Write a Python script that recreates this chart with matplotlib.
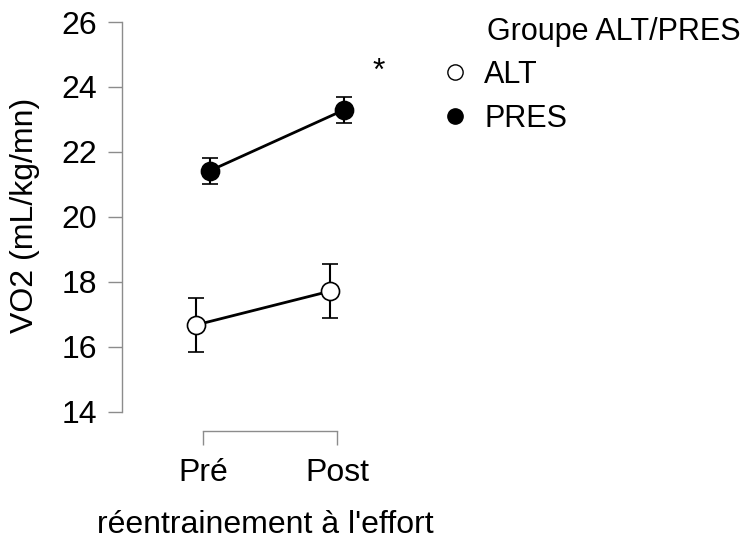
import matplotlib
matplotlib.use("Agg")
import matplotlib.pyplot as plt
from matplotlib.lines import Line2D

plt.rcParams["font.family"] = ["Liberation Sans", "DejaVu Sans"]

phases = ["Pré", "Post"]
groups = ["ALT", "PRES"]
alt_mean = [16.68, 17.72]
alt_err = [0.82, 0.83]
pres_mean = [21.42, 23.29]
pres_err = [0.39, 0.40]

grey = "#8c8c8c"
fs = 23

fig = plt.figure(figsize=(7.47, 5.44), dpi=100)
ax = fig.add_axes([122 / 747, 1 - 412 / 544, 298 / 747, 390 / 544])

x = [0, 1]
dodge = 0.05
ax.errorbar([v - dodge for v in x], alt_mean, yerr=alt_err, color="black",
            lw=2, marker="o", ms=13, mfc="white", mec="black", mew=1.2,
            capsize=6, elinewidth=1.5, capthick=1.5, zorder=3)
ax.errorbar([v + dodge for v in x], pres_mean, yerr=pres_err, color="black",
            lw=2, marker="o", ms=13, mfc="black", mec="black", mew=1.2,
            capsize=6, elinewidth=1.5, capthick=1.5, zorder=3)

ax.text(1.31, 24.45, "*", fontsize=fs, ha="center", va="center")

ax.set_ylim(14, 26)
ax.set_xlim(-0.604, 1.619)
ax.set_yticks(range(14, 27, 2))
ax.set_xticks(x)
ax.set_xticklabels(phases)

for s in ["top", "right"]:
    ax.spines[s].set_visible(False)
ax.spines["left"].set_bounds(14, 26)
ax.spines["bottom"].set_bounds(0, 1)
ax.spines["bottom"].set_position(("outward", 14))
for s in ["left", "bottom"]:
    ax.spines[s].set_color(grey)
    ax.spines[s].set_linewidth(1)
ax.tick_params(axis="both", colors=grey, labelcolor="black", labelsize=fs,
               length=10, width=1)
ax.tick_params(axis="y", pad=8)
ax.tick_params(axis="x", pad=9)

fig.text(25 / 747, 1 - 215 / 544, "VO2 (mL/kg/mn)", rotation=90,
         ha="center", va="center", fontsize=fs)
fig.text(265 / 747, 1 - 525 / 544, "réentrainement à l'effort",
         ha="center", va="center", fontsize=fs)

fig.text(487 / 747, 1 - 32 / 544, "Groupe ALT/PRES", ha="left",
         va="center", fontsize=22)
handles = [
    Line2D([], [], ls="none", marker="o", ms=11, mfc="white", mec="black", mew=1),
    Line2D([], [], ls="none", marker="o", ms=11, mfc="black", mec="black", mew=1),
]
fig.legend(handles, groups, loc="upper left", bbox_to_anchor=(440 / 747, 1 - 60 / 544),
           frameon=False, fontsize=22, handlelength=1, handletextpad=0.45,
           labelspacing=0.45, borderpad=0, borderaxespad=0)

fig.savefig("out.png", dpi=100)
